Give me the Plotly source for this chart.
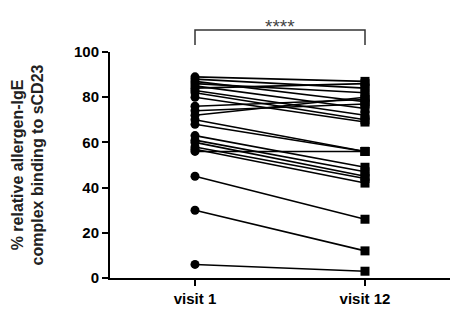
import plotly.graph_objects as go

categories = ["visit 1", "visit 12"]
visit1 = [89, 88, 87, 86, 85, 84, 83, 82, 80, 76, 74, 72, 70, 68, 63, 61, 60, 58, 57, 56, 45, 30, 6]
visit12 = [87, 84, 78, 82, 75, 86, 72, 70, 69, 79, 77, 80, 56, 56, 49, 47, 45, 44, 42, 56, 26, 12, 3]
y_ticks = [0, 20, 40, 60, 80, 100]
sig_label = "****"

x_range = [-0.5, 1.5]
fig = go.Figure()
for a, b in zip(visit1, visit12):
    fig.add_trace(go.Scatter(
        x=[0, 1], y=[a, b], mode="lines+markers",
        line=dict(color="black", width=1.6),
        marker=dict(symbol=["circle", "square"], size=9, color="black"),
        showlegend=False, cliponaxis=False, hoverinfo="skip"))

def xp(i):
    return (i - x_range[0]) / (x_range[1] - x_range[0])

fig.add_shape(type="path", xref="paper", yref="paper",
              path=f"M {xp(0)},1.031 L {xp(0)},1.097 L {xp(1)},1.097 L {xp(1)},1.031",
              line=dict(color="#333", width=1.5))
fig.add_annotation(x=(xp(0)+xp(1))/2, y=1.17, xref="paper", yref="paper",
                   text=sig_label, showarrow=False,
                   font=dict(size=19, color="#444", family="Liberation Sans"))

fig.update_layout(
    width=471, height=322,
    margin=dict(l=110, r=21, t=52, b=44),
    plot_bgcolor="white", paper_bgcolor="white",
    font=dict(family="Liberation Sans, Arial", color="black"),
    xaxis=dict(range=x_range, tickmode="array", tickvals=[0, 1],
               ticktext=[f"<b>{c}</b>" for c in categories],
               showline=True, linecolor="black", linewidth=2,
               ticks="outside", ticklen=6, tickwidth=2, tickcolor="black",
               showgrid=False, zeroline=False, tickfont=dict(size=15)),
    yaxis=dict(range=[0, 100], tickvals=y_ticks,
               ticktext=[f"<b>{t}</b>" for t in y_ticks],
               showline=True, linecolor="black", linewidth=2,
               ticks="outside", ticklen=6, tickwidth=2, tickcolor="black",
               showgrid=False, zeroline=False, tickfont=dict(size=15),
               title=dict(text="<b>% relative allergen-IgE<br>complex binding to sCD23</b>",
                          font=dict(size=16, color="#222"), standoff=26)),
)
fig.write_html("out.html")
